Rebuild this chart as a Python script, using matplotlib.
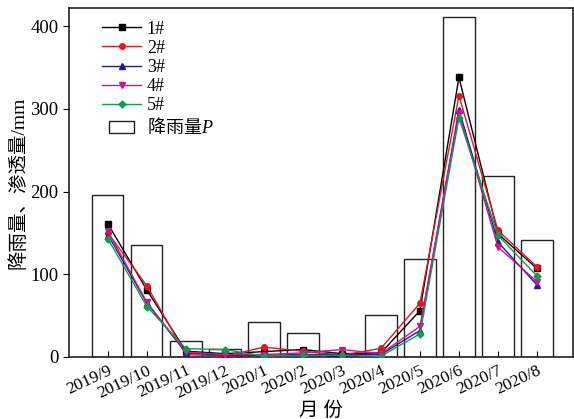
import numpy as np
import matplotlib
matplotlib.use("Agg")
import matplotlib.pyplot as plt
from matplotlib.patches import Rectangle
from matplotlib.legend_handler import HandlerPatch

plt.rcParams['font.family'] = ['Liberation Serif', 'Noto Sans CJK SC']
plt.rcParams['mathtext.fontset'] = 'custom'
plt.rcParams['mathtext.it'] = 'Liberation Serif:italic'

months = ['2019/9', '2019/10', '2019/11', '2019/12', '2020/1', '2020/2',
          '2020/3', '2020/4', '2020/5', '2020/6', '2020/7', '2020/8']
rain = [196, 135, 19, 10, 42, 29, 1, 51, 119, 411, 219, 141]

s1 = [161, 81, 7, 4, 6.5, 9, 4, 5, 56, 338, 149, 107]
s2 = [150, 86, 3, 1, 12, 7, 2, 10.5, 65, 316, 153, 109]
s3 = [148, 65, 5, 2, 2, 3, 3, 3, 32, 299, 139, 87]
s4 = [152, 66, 6, 3, 3, 5, 9, 4, 37, 295, 133, 91]
s5 = [143, 61, 10, 9, 1, 2, 2, 1, 28, 289, 147, 98]

series = [
    (s1, '1#', 'k', 's'),
    (s2, '2#', '#e8141e', 'o'),
    (s3, '3#', '#1c1c9e', '^'),
    (s4, '4#', '#c8168c', 'v'),
    (s5, '5#', '#0f9a50', 'D'),
]


# smaller box in the legend, like the Origin one
def small_box(legend, orig_handle, xdescent, ydescent, width, height, fontsize):
    w = width * 0.65
    return Rectangle((-xdescent + (width - w) / 2, -ydescent), w, height)


x = np.arange(len(months))

fig = plt.figure(figsize=(5.74, 4.19), dpi=100)
ax = fig.add_axes([0.12, 0.148, 0.878, 0.833])

ax.bar(x, rain, width=0.8, facecolor='none', edgecolor='#222222',
       linewidth=1.0, zorder=1)
box = Rectangle((0, 0), 1, 1, facecolor='none', edgecolor='#222222',
                linewidth=1.0, label='降雨量$P$')

handles = []
for vals, lab, col, mk in series:
    h, = ax.plot(x, vals, color=col, marker=mk, markersize=4 if mk != 'D' else 3.5,
                 linewidth=1.0, label=lab, zorder=3)
    handles.append(h)
handles.append(box)

ax.set_xlim(-1, 11.92)
ax.set_ylim(0, 422)
ax.set_yticks([0, 100, 200, 300, 400])
ax.set_xticks(x)
ax.set_xticklabels(months, rotation=25, ha='right', rotation_mode='anchor')
ax.tick_params(axis='x', direction='in', length=4, labelsize=12.5, pad=4)
ax.tick_params(axis='y', direction='out', length=4, labelsize=13.5)

ax.set_xlabel('月 份', fontsize=14, labelpad=0)
ax.set_ylabel('降雨量、渗透量/mm', fontsize=14, labelpad=2)

for sp in ax.spines.values():
    sp.set_linewidth(1.2)
    sp.set_color('#222222')

leg = ax.legend(handles=handles, loc='upper left', bbox_to_anchor=(0.04, 1.0),
                frameon=False, fontsize=13, handlelength=2.2, labelspacing=0.12,
                handletextpad=0.3, borderaxespad=0.3,
                handler_map={box: HandlerPatch(patch_func=small_box)})
# mathtext takes its plain characters from the text's own font, so use a CJK one here
leg.get_texts()[-1].set_fontfamily('Noto Sans CJK SC')

fig.savefig('out.png', dpi=100)
